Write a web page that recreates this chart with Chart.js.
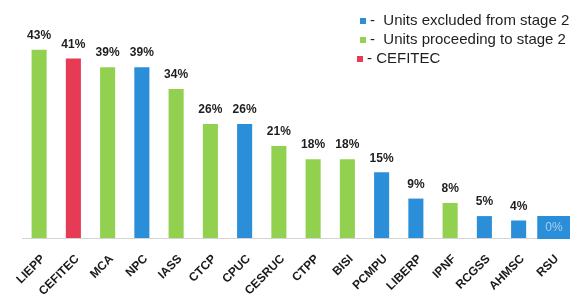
<!DOCTYPE html>
<html><head><meta charset="utf-8">
<script src="https://cdn.jsdelivr.net/npm/chart.js@4/dist/chart.umd.min.js"></script>
<style>html,body{margin:0;padding:0;background:#fff}#wrap{width:570px;height:298px;position:relative}</style>
</head><body><div id="wrap"><canvas id="c"></canvas></div>
<script>
const categories = ['LIEPP','CEFITEC','MCA','NPC','IASS','CTCP','CPUC','CESRUC','CTPP','BISI','PCMPU','LIBERP','IPNF','RCGSS','AHMSC','RSU'];
const values = [43,41,39,39,34,26,26,21,18,18,15,9,8,5,4,0];
const groups = ['proceeding','cefitec','proceeding','excluded','proceeding','proceeding','excluded','proceeding','proceeding','proceeding','excluded','excluded','proceeding','excluded','excluded','excluded'];
const legendGroups = ['excluded','proceeding','cefitec'];
const legendLabels = ['-  Units excluded from stage 2','-  Units proceeding to stage 2','- CEFITEC'];

const groupColors = {excluded:'#2a8fd8', proceeding:'#92d050', cefitec:'#e63a55'};

const labelPlugin = {
  id:'valueLabels',
  afterDatasetsDraw(chart){
    const ctx = chart.ctx;
    const meta = chart.getDatasetMeta(0);
    const xs = chart.scales.x;
    const catW = xs.width / categories.length;
    ctx.save();
    ctx.textAlign = 'center';
    meta.data.forEach((bar, i) => {
      const v = values[i];
      if (v > 0) {
        ctx.font = 'bold 12px "Liberation Sans", Arial, sans-serif';
        ctx.fillStyle = '#1e1e1e';
        ctx.textBaseline = 'bottom';
        ctx.fillText(v + '%', bar.x, bar.y - 8);
      } else {
        const w = catW - 1, h = 23;
        ctx.fillStyle = groupColors[groups[i]];
        ctx.fillRect(bar.x - w/2 + 1, bar.base - h + 1, w, h);
        ctx.font = '12px "Liberation Sans", Arial, sans-serif';
        ctx.fillStyle = '#a9cdf0';
        ctx.textBaseline = 'middle';
        ctx.fillText(v + '%', bar.x + 1, bar.base - h/2 + 1);
      }
    });
    ctx.restore();
  }
};

const legendPlugin = {
  id:'customLegend',
  afterDraw(chart){
    const ctx = chart.ctx;
    const x0 = chart.chartArea.right - 210;
    ctx.save();
    ctx.font = '15px "Liberation Sans", Arial, sans-serif';
    ctx.textBaseline = 'middle';
    ctx.textAlign = 'left';
    legendLabels.forEach((t, i) => {
      const y = 21 + i * 19;
      const off = i === 2 ? -3 : 0;
      ctx.fillStyle = groupColors[legendGroups[i]];
      ctx.fillRect(x0 + off, y - 3, 6, 6);
      ctx.fillStyle = '#1e1e1e';
      ctx.fillText(t, x0 + off + 10, y);
    });
    ctx.restore();
  }
};

new Chart(document.getElementById('c'), {
  type:'bar',
  data:{
    labels: categories,
    datasets:[{
      data: values,
      backgroundColor: groups.map(g => groupColors[g]),
      borderWidth: 0,
      categoryPercentage: 1,
      barPercentage: 0.44
    }]
  },
  options:{
    responsive:true,
    maintainAspectRatio:false,
    animation:false,
    layout:{padding:{left:22, right:0, top:19, bottom:0}},
    plugins:{legend:{display:false}, tooltip:{enabled:false}},
    scales:{
      x:{
        grid:{display:false, drawTicks:false},
        border:{display:true, color:'#d4d4d4', width:1},
        ticks:{
          autoSkip:false, maxRotation:45, minRotation:45, padding:14, labelOffset:4,
          color:'#1a1a1a',
          font:{family:'"Liberation Sans", Arial, sans-serif', size:12, weight:'bold'}
        },
        afterFit(scale){ scale.height = 60; scale.paddingLeft = 0; scale.paddingRight = 0; }
      },
      y:{display:false, min:0, max:50}
    }
  },
  plugins:[labelPlugin, legendPlugin]
});
</script>
</body></html>
